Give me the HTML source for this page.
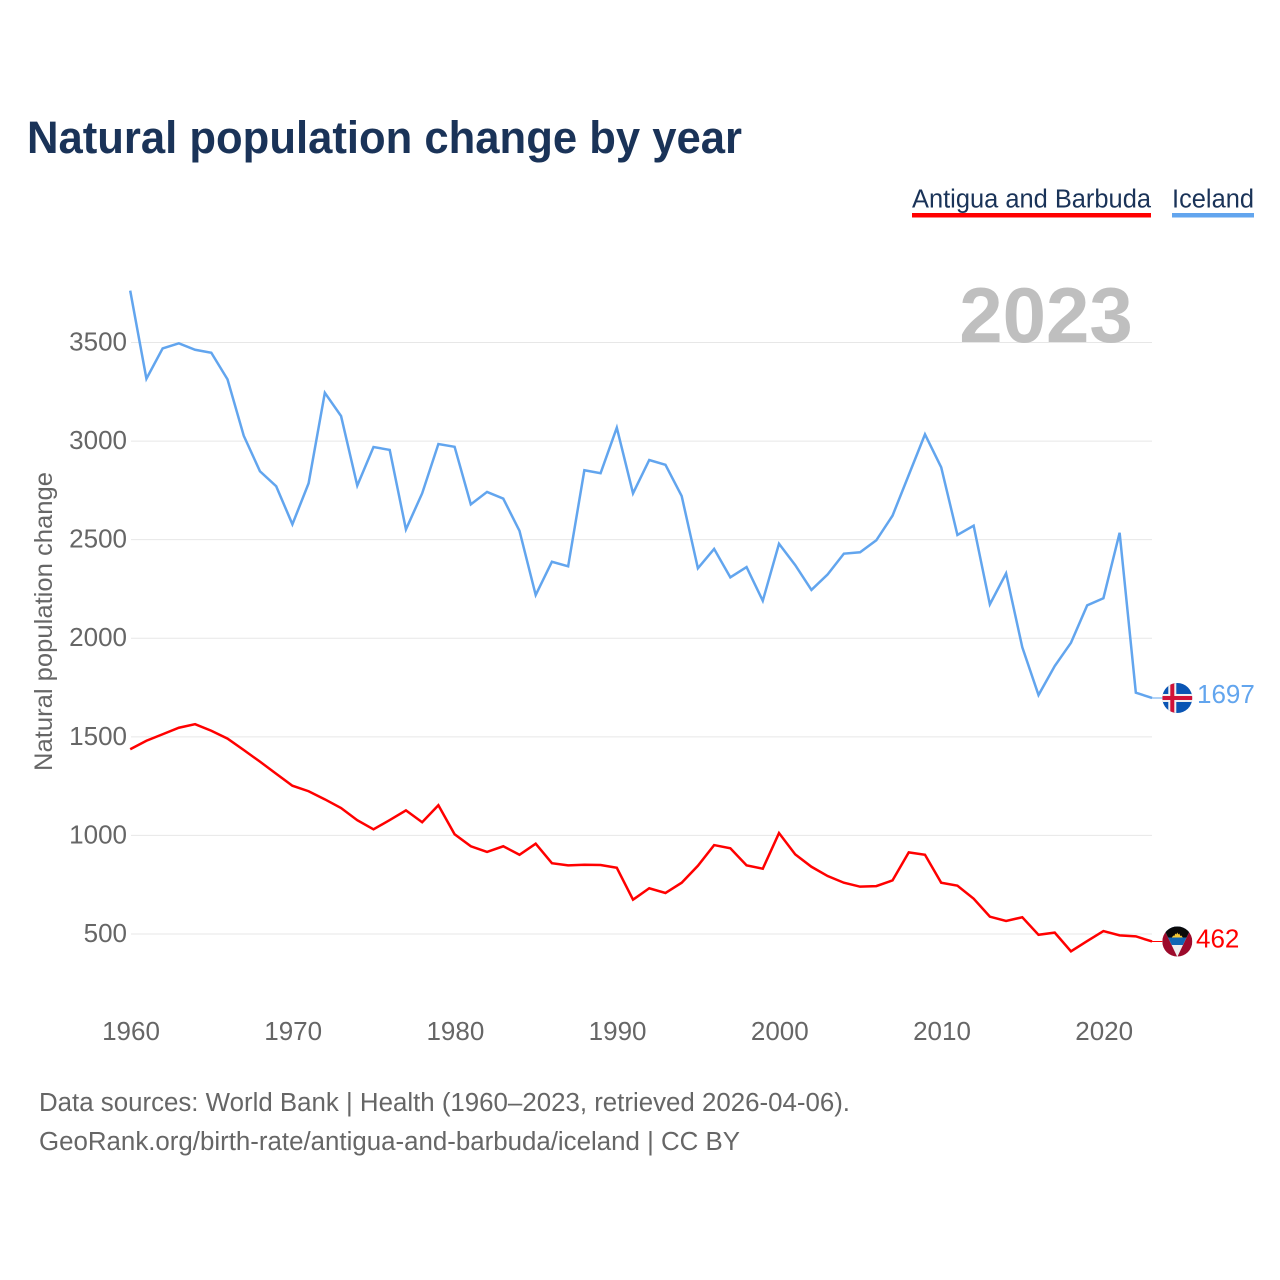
<!DOCTYPE html>
<html lang="en">
<head>
<meta charset="utf-8">
<title>Natural population change by year</title>
<style>
  html, body { margin: 0; padding: 0; background: #fff; width: 1280px; height: 1280px; overflow: hidden; }
  svg { display: block; font-family: "Liberation Sans", sans-serif; }
  .tick { font-size: 26px; fill: #666; }
  .src { font-size: 25.5px; fill: #666; }
  .legend-text { font-size: 25.5px; fill: #1a3358; }
</style>
</head>
<body>
<svg id="chart" width="1280" height="1280" viewBox="0 0 1280 1280" xmlns="http://www.w3.org/2000/svg">
  <defs>
    <clipPath id="flag-clip"><circle cx="0" cy="0" r="15"></circle></clipPath>
  </defs>
  <text x="27" y="153" font-size="45" font-weight="700" fill="#1a3358" textLength="715" lengthAdjust="spacingAndGlyphs">Natural population change by year</text>

  <g>
    <g>
      <text class="legend-text" x="912" y="207.5" textLength="239" lengthAdjust="spacingAndGlyphs">Antigua and Barbuda</text>
      <rect x="912" y="213" width="239" height="4.5" fill="#ff0000"></rect>
    </g>
    <g>
      <text class="legend-text" x="1172" y="207.5" textLength="82" lengthAdjust="spacingAndGlyphs">Iceland</text>
      <rect x="1172" y="213" width="82" height="4.5" fill="#62a5ee"></rect>
    </g>
  </g>

  <g id="grid"></g>
  <text x="1046" y="342" text-anchor="middle" font-size="78" font-weight="700" fill="#bfbfbf">2023</text>
  <g id="y-ticks"></g>
  <g id="x-ticks"></g>
  <text transform="translate(52,771) rotate(-90)" font-size="25" fill="#666" textLength="299" lengthAdjust="spacingAndGlyphs">Natural population change</text>

  <g id="series"></g>

  <g id="flag-iceland">
    <g clip-path="url(#flag-clip)">
      <rect x="-15" y="-15" width="30" height="30" fill="#0a55b4"></rect>
      <rect x="-9" y="-15" width="8" height="30" fill="#f1f1f1"></rect>
      <rect x="-15" y="-4" width="30" height="8" fill="#f1f1f1"></rect>
      <rect x="-7" y="-15" width="4" height="30" fill="#d01238"></rect>
      <rect x="-15" y="-2" width="30" height="4" fill="#d01238"></rect>
    </g>
  </g>
  <g id="flag-antigua">
    <g clip-path="url(#flag-clip)">
      <rect x="-15" y="-15" width="30" height="30" fill="#9c0a2b"></rect>
      <polygon points="-14.5,-15 14.5,-15 0,15.5" fill="#eeeeee"></polygon>
      <polygon points="-14.5,-15 14.5,-15 5.6,3.5 -5.6,3.5" fill="#0f66b4"></polygon>
      <polygon points="-14.5,-15 14.5,-15 9.2,-4 -9.2,-4" fill="#0a0a0a"></polygon>
      <polygon points="-5.5,-4 -4,-6 -3,-5.5 -2,-8 -1,-7 0,-9 1,-7 2,-8 3,-5.5 4,-6 5.5,-4" fill="#f6c834"></polygon>
    </g>
  </g>
  <g id="end-labels"></g>

  <text class="src" x="39" y="1111" textLength="811" lengthAdjust="spacingAndGlyphs">Data sources: World Bank | Health (1960–2023, retrieved 2026-04-06).</text>
  <text class="src" x="39" y="1150" textLength="701" lengthAdjust="spacingAndGlyphs">GeoRank.org/birth-rate/antigua-and-barbuda/iceland | CC BY</text>
</svg>
<script>
const firstYear = 1960;
const icelandValues = [3763,3316,3470,3496,3463,3448,3313,3027,2847,2771,2578,2786,3245,3127,2774,2970,2955,2552,2735,2985,2971,2679,2742,2708,2545,2219,2388,2365,2852,2837,3068,2735,2904,2880,2721,2355,2453,2309,2361,2190,2479,2371,2245,2324,2429,2436,2497,2622,2828,3034,2867,2524,2571,2172,2329,1954,1712,1859,1977,2167,2203,2535,1724,1697];
const antiguaValues = [1437,1480,1513,1546,1564,1531,1491,1433,1374,1313,1252,1224,1183,1139,1077,1031,1078,1127,1067,1153,1006,945,916,945,902,958,859,848,851,850,836,674,732,708,760,846,951,935,848,831,1012,904,841,794,760,740,743,772,914,902,760,745,679,588,566,585,496,507,412,464,515,493,488,462];
const yTickValues = [500,1000,1500,2000,2500,3000,3500];
const xTickYears = [1960,1970,1980,1990,2000,2010,2020];

const NS = 'http://www.w3.org/2000/svg';
const xAxis = year => 130.2 + (year - 1960) * 16.22;
const xLabelAxis = year => 131 + (year - 1960) * 16.22;
const yAxis = value => 934 - (value - 500) * 0.19717;
const gridLeft = 131;
const gridRight = 1152;
const flagX = 1177.3;

function make(tag, parent) {
  const el = document.createElementNS(NS, tag);
  parent.appendChild(el);
  return el;
}

const gridGroup = document.getElementById('grid');
const yTickGroup = document.getElementById('y-ticks');
yTickValues.forEach(v => {
  const line = make('line', gridGroup);
  
  
  line.setAttribute('x1', gridLeft);
  line.setAttribute('x2', gridRight);
  line.setAttribute('y1', yAxis(v));
  line.setAttribute('y2', yAxis(v));
  line.setAttribute('stroke', '#e7e7e7');
  line.setAttribute('stroke-width', '1');
  const label = make('text', yTickGroup);
  
  
  label.setAttribute('class', 'tick');
  label.setAttribute('x', 127);
  label.setAttribute('y', yAxis(v) + 8);
  label.setAttribute('text-anchor', 'end');
  label.textContent = v;
});

const xTickGroup = document.getElementById('x-ticks');
xTickYears.forEach(year => {
  const label = make('text', xTickGroup);
  
  
  label.setAttribute('class', 'tick');
  label.setAttribute('x', xLabelAxis(year));
  label.setAttribute('y', 1040);
  label.setAttribute('text-anchor', 'middle');
  label.textContent = year;
});

const seriesGroup = document.getElementById('series');
function drawSeries(values, color, name) {
  const pts = values.map((v, i) => xAxis(firstYear + i).toFixed(2) + ',' + yAxis(v).toFixed(2));
  const line = make('polyline', seriesGroup);
  
  
  line.setAttribute('points', pts.join(' '));
  line.setAttribute('fill', 'none');
  line.setAttribute('stroke', color);
  line.setAttribute('stroke-width', '2.5');
  line.setAttribute('stroke-linejoin', 'miter');
  const lastY = yAxis(values[values.length - 1]);
  const connector = make('line', seriesGroup);
  
  
  connector.setAttribute('x1', xAxis(firstYear + values.length - 1));
  connector.setAttribute('x2', flagX - 15);
  connector.setAttribute('y1', lastY);
  connector.setAttribute('y2', lastY);
  connector.setAttribute('stroke', color);
  connector.setAttribute('stroke-width', '1');
}
drawSeries(icelandValues, '#62a5ee', 'iceland-line');
drawSeries(antiguaValues, '#ff0000', 'antigua-line');

const icelandLast = icelandValues[icelandValues.length - 1];
const antiguaLast = antiguaValues[antiguaValues.length - 1];
document.getElementById('flag-iceland').setAttribute('transform', 'translate(' + flagX + ',' + yAxis(icelandLast) + ')');
document.getElementById('flag-antigua').setAttribute('transform', 'translate(' + flagX + ',' + yAxis(antiguaLast) + ')');

const endGroup = document.getElementById('end-labels');
const icelandLabel = make('text', endGroup);


icelandLabel.setAttribute('x', 1197);
icelandLabel.setAttribute('y', yAxis(icelandLast) + 5);
icelandLabel.setAttribute('font-size', '26');
icelandLabel.setAttribute('fill', '#62a5ee');
icelandLabel.textContent = icelandLast;

const antiguaLabel = make('text', endGroup);


antiguaLabel.setAttribute('x', 1196);
antiguaLabel.setAttribute('y', yAxis(antiguaLast) + 6);
antiguaLabel.setAttribute('font-size', '26');
antiguaLabel.setAttribute('fill', '#ff0000');
antiguaLabel.textContent = antiguaLast;
</script>
</body>
</html>
